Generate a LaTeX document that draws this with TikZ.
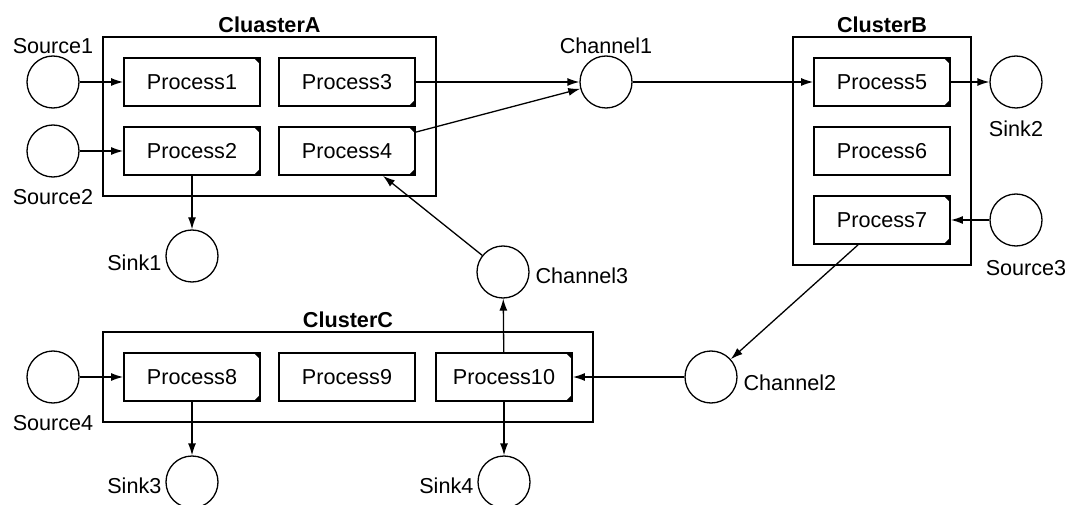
\documentclass[tikz,border=0pt]{standalone}
\usepackage{fontspec}
\setmainfont{Liberation Sans}
\usetikzlibrary{positioning, fit, arrows.meta}
\newcommand{\fsize}{\fontsize{21.6pt}{24pt}\selectfont}
\newcommand{\nemark}[1]{\fill ([shift={(-1pt,-1pt)}]#1.north east) -- ++(-6pt,0pt) -- ++(6pt,-6pt) -- cycle;}
\newcommand{\semark}[1]{\fill ([shift={(-1pt,1pt)}]#1.south east) -- ++(-6pt,0pt) -- ++(6pt,6pt) -- cycle;}

\begin{document}
\begin{tikzpicture}[
        on grid,
        node distance = 69pt,
        -{Latex[length=12pt, width=8pt]},
        line width = 1.3pt,
        every node/.style = {font = \fsize},
        proc/.style = {rectangle, draw, line width = 1.8pt, minimum width = 136pt, minimum height = 48pt},
        port/.style = {circle, draw, line width = 1.3pt, minimum size = 52pt, inner sep = 0pt},
        cluster/.style = {rectangle, draw, line width = 1.8pt, inner sep = 20pt},
        title/.style = {font = \fsize\bfseries, label distance = 0pt}]

      \useasboundingbox (0,0) rectangle (1082pt,-505pt);

      %ClusterA
      \node[port, label={[label distance=-2pt]above:Source1}] (Source1) at (53pt,-82pt) {};
      \node[port, label={[label distance=8pt]below:Source2}] (Source2) [below = of Source1] {};
      \node[proc] (Process1) [right = 139pt of Source1] {Process1};
      \node[proc] (Process3) [right = 155pt of Process1] {Process3};
      \node[proc] (Process2) [below = of Process1] {Process2};
      \node[proc] (Process4) [below = of Process3] {Process4};
      \node[port, label={[yshift=-7pt]left:Sink1}] (Sink1) [below = 105pt of Process2] {};
      \node[cluster, fit = (Process1) (Process4), label={[title]above:CluasterA}] (ClusterA) {};

      %channels
      \node[port, label={[label distance=-2pt]above:Channel1}] (Channel1) [right = 259pt of Process3] {};
      \node[port, label={[label distance=2pt, yshift=-4pt]right:Channel3}] (Channel3) [below right = 121pt and 156pt of Process4] {};

      %ClusterB
      \node[proc] (Process5) [right = 276pt of Channel1] {Process5};
      \node[proc] (Process6) [below = of Process5] {Process6};
      \node[proc] (Process7) [below = of Process6] {Process7};
      \node[port, label={[label distance=8pt]below:Sink2}] (Sink2) [right = 134pt of Process5] {};
      \node[port, label={[label distance=10pt, xshift=10pt]below:Source3}] (Source3) [right = 134pt of Process7] {};
      \node[cluster, fit = (Process5) (Process7), label={[title]above:ClusterB}] (ClusterB) {};

      %ClusterC
      \node[proc] (Process8) [below = 226pt of Process2] {Process8};
      \node[proc] (Process9) [right = 155pt of Process8] {Process9};
      \node[proc] (Process10) [right = 157pt of Process9] {Process10};
      \node[port, label={[label distance=8pt]below:Source4}] (Source4) [left = 139pt of Process8] {};
      \node[port, label={[label distance=2pt, yshift=-6pt]right:Channel2}] (Channel2) [right = 207pt of Process10] {};
      \node[port, label={[yshift=-4pt]left:Sink3}] (Sink3) [below = 105pt of Process8] {};
      \node[port, label={[yshift=-4pt]left:Sink4}] (Sink4) [below = 105pt of Process10] {};
      \node[cluster, fit = (Process8) (Process10), label={[title]above:ClusterC}] (ClusterC) {};

      %corner marks
      \nemark{Process1}
      \nemark{Process2} \semark{Process2}
      \semark{Process3}
      \nemark{Process4} \semark{Process4}
      \nemark{Process5} \semark{Process5}
      \nemark{Process7} \semark{Process7}
      \nemark{Process8} \semark{Process8}
      \nemark{Process10} \semark{Process10}

      %flows
      \path
      (Source1) edge (Process1)
      (Source2) edge (Process2)
      (Process2) edge (Sink1)
      (Process3) edge (Channel1)
      ([yshift=-6pt]Process4.north east) edge (Channel1)
      (Channel1) edge (Process5)
      (Process5) edge (Sink2)
      (Source3) edge (Process7)
      ([xshift=-24pt]Process7.south) edge (Channel2)
      (Channel2) edge (Process10)
      (Process10) edge (Channel3)
      (Channel3) edge ([xshift=36pt]Process4.south)
      (Source4) edge (Process8)
      (Process8) edge (Sink3)
      (Process10) edge (Sink4)
      ;
    \end{tikzpicture}
\end{document}
